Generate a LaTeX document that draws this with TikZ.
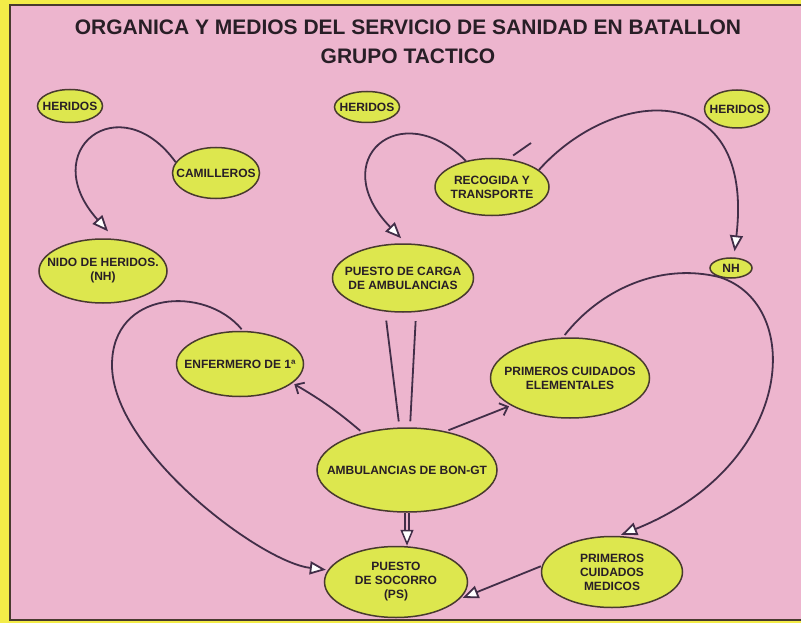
\documentclass[tikz,border=0pt]{standalone}
\usepackage{fontspec}
\setmainfont{Liberation Sans}
\usetikzlibrary{arrows.meta,shapes.geometric,positioning}
\definecolor{panelpink}{RGB}{237,181,206}
\definecolor{bordyellow}{RGB}{243,236,72}
\definecolor{cellfill}{RGB}{221,231,78}
\definecolor{celldraw}{RGB}{72,58,46}
\definecolor{linkcol}{RGB}{66,46,72}
\definecolor{textcol}{RGB}{40,30,38}

\tikzset{
  cell/.style={ellipse, draw=celldraw, fill=cellfill, line width=1.5pt,
    inner xsep=-25pt, inner ysep=-12pt,
    align=center, text=textcol, font=\fontsize{12}{14}\selectfont\bfseries},
  link/.style={draw=linkcol, line width=1.8pt},
  hollow/.style={link, -{Triangle[open, length=16pt, width=13pt, fill=white]}},
  barb/.style={link, -{Straight Barb[length=7pt, width=13pt]}},
}

\begin{document}
\begin{tikzpicture}[x=1pt,y=-1pt]
\useasboundingbox (0,0) rectangle (801,623);
\fill[bordyellow] (0,0) rectangle (801,623);
\fill[panelpink] (10,5) rectangle (801,620);
\draw[celldraw, line width=1.5pt] (801,5) -- (10,5) -- (10,620) -- (801,620);

%Title
\node[text=textcol, font=\fontsize{21}{29}\selectfont\bfseries, align=center] (title) at (408,42)
  {ORGANICA Y MEDIOS DEL SERVICIO DE SANIDAD EN BATALLON\\GRUPO TACTICO};

%Heridos and camilleros
\node[cell, minimum width=65pt, minimum height=33pt] (her1) at (70,106) {HERIDOS};
\node[cell, minimum width=87pt, minimum height=51pt] (cam) at (216,173) {CAMILLEROS};
\node[cell, minimum width=128pt, minimum height=64pt] (nido) at (103,271) {NIDO DE HERIDOS.\\(NH)};

%Heridos and recogida
\node[cell, minimum width=65pt, minimum height=31pt] (her2) at (367,107) {HERIDOS};
\node[cell, minimum width=114pt, minimum height=57pt] (rec) at (492,187) {RECOGIDA Y\\TRANSPORTE};
\node[cell, minimum width=141pt, minimum height=68pt] (carga) at (403,278) {PUESTO DE CARGA\\DE AMBULANCIAS};

%Heridos and NH
\node[cell, minimum width=65pt, minimum height=38pt] (her3) at (737,109) {HERIDOS};
\node[cell, minimum width=42pt, minimum height=20pt] (nh) at (731,268) {NH};

%Cuidados
\node[cell, minimum width=127pt, minimum height=65pt] (enf) at (240,364) {ENFERMERO DE 1ª};
\node[cell, minimum width=159pt, minimum height=80pt] (pce) at (570,378) {PRIMEROS CUIDADOS\\ELEMENTALES};
\node[cell, minimum width=180pt, minimum height=84pt] (amb) at (407,470) {AMBULANCIAS DE BON-GT};
\node[cell, minimum width=143pt, minimum height=71pt] (ps) at (396,582) {PUESTO\\DE SOCORRO\\(PS)};
\node[cell, minimum width=141pt, minimum height=71pt] (pcm) at (612,572) {PRIMEROS\\CUIDADOS\\MEDICOS};

\coordinate (tick) at (531,143);

%Connectors
\draw[hollow, shorten >=10pt] (cam.165) .. controls (120,85) and (35,150) .. (nido.70);
\draw[hollow, shorten >=7pt] (rec.135) .. controls (400,95) and (325,160) .. (carga.85);
\draw[link, shorten <=6pt] (rec.60) -- (tick);
\draw[hollow, shorten >=6pt] (rec.20) .. controls (615,85) and (755,78) .. (nh.75);
\draw[link, shorten <=3pt] (pce.100) .. controls (600,290) and (660,262) .. (nh.220);
\draw[hollow, shorten >=3pt] (nh.220) .. controls (805,305) and (795,465) .. (pcm.80);
\draw[hollow, shorten <=2pt, shorten >=2pt] (enf.85) .. controls (205,285) and (112,290) .. (112,365)
  .. controls (112,450) and (260,562) .. (ps.170);
\draw[barb, shorten <=3pt, shorten >=2pt] (amb.140) to[bend right=5] (enf.-20);
\draw[barb, shorten <=3pt, shorten >=2pt] (amb.45) -- (pce.205);
\draw[link, shorten <=9pt, shorten >=6pt] (carga.-118) -- (amb.100);
\draw[link, shorten <=9pt, shorten >=6pt] (carga.-69) -- (amb.86);
\draw[hollow, double=panelpink, double distance=2.4pt, line width=1.5pt] (amb.south) -- (amb.south |- ps.north);
\draw[hollow, shorten <=1pt, shorten >=3pt] (pcm.175) -- (ps.-15);
\end{tikzpicture}
\end{document}
